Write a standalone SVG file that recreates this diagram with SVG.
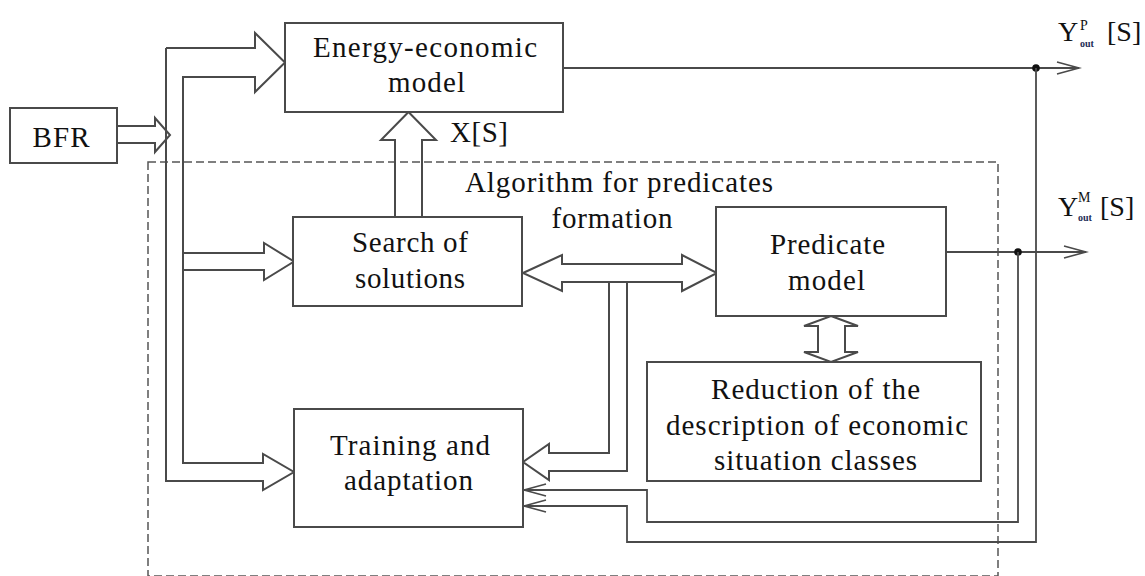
<svg xmlns="http://www.w3.org/2000/svg" width="1145" height="576" viewBox="0 0 1145 576">
<defs>
<style>
.box{fill:#fff;stroke:#4a4a4a;stroke-width:2}
.ln{fill:none;stroke:#4a4a4a;stroke-width:2;stroke-linejoin:miter}
.thin{fill:none;stroke:#4a4a4a;stroke-width:1.8}
.dash{fill:none;stroke:#555;stroke-width:1.5;stroke-dasharray:8 4}
text{font-family:"Liberation Serif",Tinos,"Times New Roman",Times,"Nimbus Roman","Nimbus Roman No9 L",FreeSerif,"Noto Serif","DejaVu Serif",serif;font-size:29px;fill:#111}
.c{text-anchor:middle}
.lbl{font-size:28px}
.sup{font-size:14px}
.sub{font-size:10px;font-weight:bold;fill:#1d2b55}
</style>
<marker id="open" markerUnits="userSpaceOnUse" markerWidth="26" markerHeight="16" refX="23" refY="7" orient="auto">
<path d="M1,1 L23,7 L1,13" fill="none" stroke="#4a4a4a" stroke-width="1.6"/>
</marker>
</defs>
<rect width="1145" height="576" fill="#fff"/>

<g id="algorithm-frame">
<rect class="dash" x="148" y="162" width="850" height="414"/>
<text class="c" x="619" y="192" textLength="308" lengthAdjust="spacing">Algorithm for predicates</text>
<text class="c" x="612" y="228" textLength="121" lengthAdjust="spacing">formation</text>
</g>

<g id="connectors">
<polyline class="ln" points="117,126 155,126 155,118 170,135 155,152 155,143 117,143"/>
<polyline class="ln" points="166,48 255,48 255,33 285,62.5 255,92 255,77 183,77 183,463 263,463 263,454 294,472 263,490 263,481 166,481 166,48"/>
<polyline class="ln" points="183,253 264,253 264,243 294,261.5 264,280 264,270 183,270"/>
<polyline class="ln" points="395,217 395,140 381,140 408.5,112 436,140 422,140 422,217"/>
<polygon class="ln" points="523,273 562,255 562,264 682,264 682,255 717,273 682,291 682,282 562,282 562,291"/>
<polyline class="ln" points="609,282 609,453 549,453 549,444 523,462 549,480 549,471 627,471 627,282"/>
<polygon class="ln" points="831,316 858,326 845,326 845,352 858,352 831,362 804,352 818,352 818,326 804,326"/>
<line class="thin" x1="563" y1="68" x2="1079" y2="68" marker-end="url(#open)"/>
<line class="thin" x1="946" y1="252" x2="1086" y2="252" marker-end="url(#open)"/>
<circle cx="1036" cy="68" r="3.8" fill="#111"/>
<circle cx="1018" cy="252" r="3.8" fill="#111"/>
<polyline class="thin" points="1036,68 1036,542 627,542 627,506 524,506" marker-end="url(#open)"/>
<polyline class="thin" points="1018,252 1018,522 647,522 647,490 524,490" marker-end="url(#open)"/>
<text class="lbl" x="1058" y="41">Y</text>
<text class="sup" x="1080" y="30">P</text>
<text class="sub" x="1080" y="47">out</text>
<text class="lbl" x="1107" y="41">[S]</text>
<text class="lbl" x="1058" y="216">Y</text>
<text class="sup" x="1078" y="202">M</text>
<text class="sub" x="1078" y="221">out</text>
<text class="lbl" x="1100" y="216">[S]</text>
<text x="450" y="142" textLength="58" lengthAdjust="spacing">X[S]</text>
</g>

<g id="bfr">
<rect class="box" x="10" y="108" width="107" height="55"/>
<text class="c" x="61" y="147" textLength="57" lengthAdjust="spacing">BFR</text>
</g>

<g id="energy-economic-model">
<rect class="box" x="285" y="23" width="278" height="89"/>
<text class="c" x="425" y="57" textLength="224" lengthAdjust="spacing">Energy-economic</text>
<text class="c" x="426.5" y="92" textLength="77" lengthAdjust="spacing">model</text>
</g>

<g id="search-of-solutions">
<rect class="box" x="293" y="217" width="229" height="89"/>
<text class="c" x="410" y="252" textLength="116" lengthAdjust="spacing">Search of</text>
<text class="c" x="410" y="288" textLength="110" lengthAdjust="spacing">solutions</text>
</g>

<g id="predicate-model">
<rect class="box" x="716" y="207" width="230" height="109"/>
<text class="c" x="827.5" y="254" textLength="115" lengthAdjust="spacing">Predicate</text>
<text class="c" x="826.5" y="290" textLength="77" lengthAdjust="spacing">model</text>
</g>

<g id="reduction">
<rect class="box" x="647" y="362" width="334" height="119"/>
<text class="c" x="815.5" y="399" textLength="209" lengthAdjust="spacing">Reduction of the</text>
<text class="c" x="817" y="435" textLength="302" lengthAdjust="spacing">description of economic</text>
<text class="c" x="815.5" y="470" textLength="203" lengthAdjust="spacing">situation classes</text>
</g>

<g id="training-and-adaptation">
<rect class="box" x="294" y="409" width="229" height="118"/>
<text class="c" x="410" y="455" textLength="160" lengthAdjust="spacing">Training and</text>
<text class="c" x="408.5" y="490" textLength="129" lengthAdjust="spacing">adaptation</text>
</g>
</svg>
